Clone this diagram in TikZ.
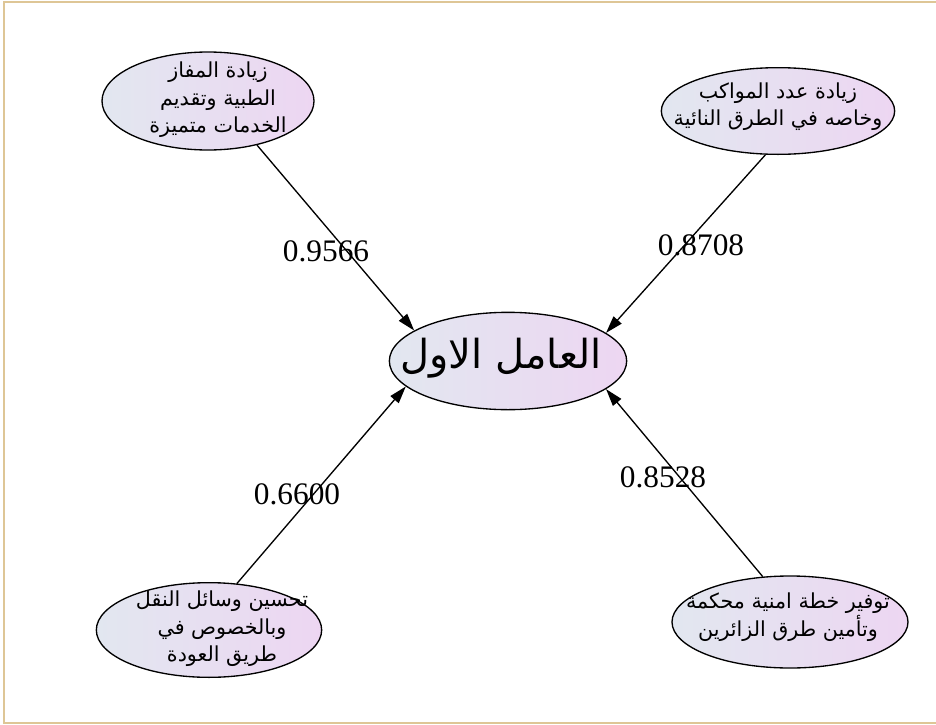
\documentclass[tikz,border=0pt]{standalone}
\usepackage{fontspec}
\setmainfont{Liberation Serif}
\newfontfamily\arabicfont[Script=Arabic]{DejaVu Sans}
\TeXXeTstate=1
\usetikzlibrary{arrows.meta,shapes.geometric}
\definecolor{lc}{RGB}{226,231,240}
\definecolor{rc}{RGB}{237,214,242}
\definecolor{framec}{RGB}{222,198,150}
\begin{document}
\begin{tikzpicture}[x=0.75pt,y=-0.75pt,
  ell/.style={ellipse, draw=black, line width=1pt, left color=lc, right color=rc, inner sep=0pt},
  atext/.style={font=\arabicfont\fontsize{15.5}{20.5}\selectfont, align=center, inner sep=0pt},
  ctext/.style={font=\arabicfont\fontsize{30}{34}\selectfont, inner sep=0pt},
  num/.style={font=\fontsize{23.5}{26}\selectfont, inner sep=0pt},
  conn/.style={line width=1pt, -{Triangle[length=13pt,width=8pt]}}]
\useasboundingbox (0,0) rectangle (936,725);
\draw[framec, line width=1.5pt] (4,1.5) rectangle (945,722.5);

\node[ell, minimum width=159pt, minimum height=73.5pt] (tl) at (208,101) {};
\node[ell, minimum width=175pt, minimum height=65pt] (tr) at (778,111) {};
\node[ell, minimum width=169pt, minimum height=71pt] (bl) at (209,630) {};
\node[ell, minimum width=177pt, minimum height=69pt] (br) at (790,622) {};
\node[ell, minimum width=178pt, minimum height=73pt] (c) at (508,361) {};

\node[atext] (tltext) at (218,100) {\beginR زيادة المفاز\endR\\\beginR الطبية وتقديم\endR\\\beginR الخدمات متميزة\endR};
\node[atext] (trtext) at (778,107) {\beginR زيادة عدد المواكب\endR\\\beginR وخاصه في الطرق النائية\endR};
\node[atext] (bltext) at (222,629) {\beginR تحسين وسائل النقل\endR\\\beginR وبالخصوص في\endR\\\beginR طريق العودة\endR};
\node[atext] (brtext) at (788,617) {\beginR توفير خطة امنية محكمة\endR\\\beginR وتأمين طرق الزائرين\endR};
\node[ctext] (ctxt) at (501,358) {\beginR العامل الاول\endR};

\draw[conn] (tl.-42) -- (c.162);
\draw[conn] (tr.254) -- (c.16.6);
\draw[conn] (bl.59) -- (c.194.7);
\draw[conn] (br.121) -- (c.-16.2);

\node[num] (n1) at (326,251) {0.9566};
\node[num] (n2) at (701,245) {0.8708};
\node[num] (n3) at (297,494) {0.6600};
\node[num] (n4) at (663,477) {0.8528};
\end{tikzpicture}
\end{document}
